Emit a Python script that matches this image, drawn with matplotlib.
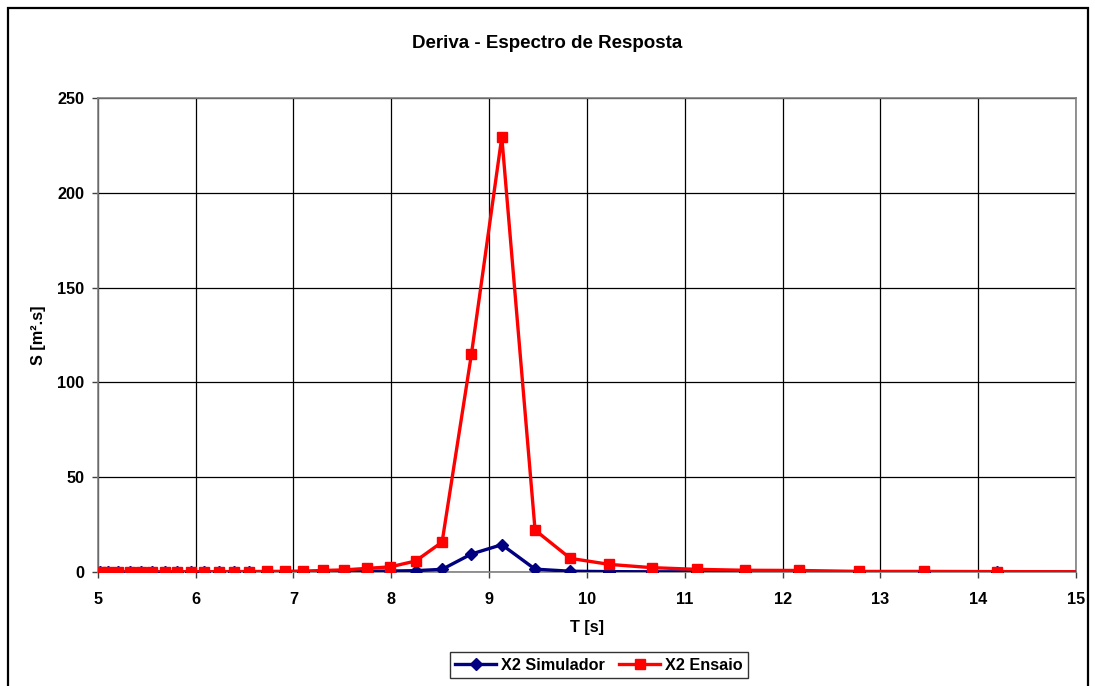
import matplotlib
matplotlib.use("Agg")
import matplotlib.pyplot as plt
from matplotlib.patches import Rectangle

plt.rcParams['font.family'] = ['Liberation Sans', 'DejaVu Sans']
plt.rcParams['font.weight'] = 'bold'

## Data

T = [5.02, 5.11, 5.21, 5.33, 5.44, 5.56, 5.69, 5.81, 5.95, 6.09,
     6.24, 6.39, 6.55, 6.73, 6.91, 7.10, 7.30, 7.52, 7.75, 7.99,
     8.25, 8.52, 8.82, 9.13, 9.47, 9.83, 10.23, 10.66, 11.12, 11.62,
     12.17, 12.78, 13.45, 14.19, 15.05]

simulador = [0.05, 0.05, 0.05, 0.05, 0.05, 0.05, 0.05, 0.06, 0.06, 0.07,
             0.08, 0.09, 0.10, 0.12, 0.15, 0.20, 0.25, 0.30, 0.40, 0.50,
             0.70, 1.4, 9.5, 14.4, 1.5, 0.4, 0.2, 0.1, 0.1, 0.05,
             0.05, 0.03, 0.02, 0.02, 0.01]

ensaio = [0.1, 0.1, 0.1, 0.1, 0.1, 0.1, 0.1, 0.1, 0.15, 0.15,
          0.2, 0.2, 0.25, 0.3, 0.35, 0.45, 0.8, 1.1, 1.9, 2.7,
          5.8, 15.8, 115.0, 229.5, 22.1, 7.2, 4.0, 2.3, 1.4, 0.9,
          0.8, 0.3, 0.3, 0.2, 0.1]

x_ticks = [5, 6, 7, 8, 9, 10, 11, 12, 13, 14, 15]
y_ticks = [0, 50, 100, 150, 200, 250]

## Figure

fig = plt.figure(figsize=(10.95, 6.86), dpi=100)
ax = fig.add_axes([0.0892, 0.1662, 0.8936, 0.6908])

# chart border (bottom edge is cut off in the original)
fig.patches.append(Rectangle((8 / 1095, -0.05), 1080 / 1095, 1.05 - 8 / 686,
                             transform=fig.transFigure, fill=False,
                             edgecolor='black', linewidth=1.6))

marks = list(range(len(T) - 1))  # last point sits past the axis end
ax.plot(T, simulador, color='#000080', linewidth=2.4, marker='D',
        markersize=6.5, markevery=marks, label='X2 Simulador', zorder=3)
ax.plot(T, ensaio, color='#FF0000', linewidth=2.4, marker='s',
        markersize=6.5, markevery=marks, label='X2 Ensaio', zorder=4)

ax.set_xlim(5, 15)
ax.set_ylim(0, 250)
ax.set_xticks(x_ticks)
ax.set_yticks(y_ticks)
ax.grid(True, color='black', linewidth=0.9)
ax.set_axisbelow(True)
for s in ax.spines.values():
    s.set_color('#808080')
    s.set_linewidth(1.2)

ax.tick_params(axis='both', labelsize=11.7, length=4.3, width=1, color='#404040')
ax.tick_params(axis='x', pad=9.8)
ax.tick_params(axis='y', pad=5.5)
for lab in ax.get_xticklabels() + ax.get_yticklabels():
    lab.set_fontweight('bold')

ax.set_xlabel('T [s]', fontsize=11.7, fontweight='bold', labelpad=10)
ax.set_ylabel('S [m².s]', fontsize=11.7, fontweight='bold', labelpad=8)
fig.text(0.5, 1 - 44 / 686, 'Deriva - Espectro de Resposta', ha='center',
         va='center', fontsize=13.5, fontweight='bold')

leg = fig.legend(loc='center', bbox_to_anchor=(599 / 1095, 1 - 665 / 686),
                 ncol=2, fontsize=11.7, frameon=True, fancybox=False,
                 edgecolor='black', handlelength=2.5, columnspacing=0.9,
                 handletextpad=0.3, borderpad=0.35, borderaxespad=0)
leg.get_frame().set_linewidth(1.0)

fig.savefig('out.png', dpi=100)
